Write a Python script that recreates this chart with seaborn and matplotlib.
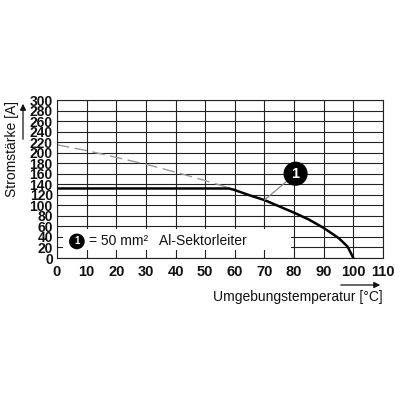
import matplotlib
matplotlib.use("Agg")
import matplotlib.pyplot as plt
import seaborn as sns
import pandas as pd
from matplotlib.patches import Rectangle

# Data
temps_solid = [0, 58, 60, 65, 70, 75, 80, 85, 90, 95, 98, 100]
current_solid = [132, 132, 129, 119, 110, 98, 86, 73, 57, 38, 22, 0]
temps_dashed = [0, 10, 20, 30, 40, 50, 60]
current_dashed = [215, 204, 191, 178, 163, 147, 130]
x_ticks = list(range(0, 111, 10))
y_ticks = list(range(0, 301, 20))
x_label = "Umgebungstemperatur [°C]"
y_label = "Stromstärke [A]"
legend_text = "= 50 mm²   Al-Sektorleiter"
marker_label = "1"
annot_point = (70, 110)
annot_circle = (80.5, 160)

sns.set_theme(style="white")
plt.rcParams['font.family'] = ['Liberation Sans', 'DejaVu Sans']

df_solid = pd.DataFrame({"T": temps_solid, "I": current_solid})
df_dash = pd.DataFrame({"T": temps_dashed, "I": current_dashed})

fig = plt.figure(figsize=(4, 4), dpi=100)
ax = fig.add_axes([0.1425, 0.355, 0.815, 0.395])

ax.set_xlim(0, 110)
ax.set_ylim(0, 300)
ax.set_xticks(x_ticks)
ax.set_yticks(y_ticks)
ax.grid(True, color="#222222", linewidth=0.8)
ax.set_axisbelow(True)
for s in ax.spines.values():
    s.set_color("#222222")
    s.set_linewidth(0.8)

ax.tick_params(axis="x", length=0, labelsize=10.5, colors="#111111", pad=5)
ax.tick_params(axis="y", length=0, labelsize=10, colors="#111111", pad=3)
for lbl in ax.get_xticklabels() + ax.get_yticklabels():
    lbl.set_fontweight("bold")

# White legend box that covers grid
ax.add_patch(Rectangle((0.018, 0.05), 0.70, 0.135, transform=ax.transAxes,
                       facecolor="white", edgecolor="none", zorder=1.5))

sns.lineplot(data=df_dash, x="T", y="I", ax=ax, color="#999999",
             linewidth=1.0, linestyle=(0, (9, 4)), zorder=2)
sns.lineplot(data=df_solid, x="T", y="I", ax=ax, color="black",
             linewidth=1.8, zorder=3)
ax.set_xlabel("")
ax.set_ylabel("")

# Annotation circle "1"
ax.annotate("", xy=annot_point, xytext=annot_circle,
            arrowprops=dict(arrowstyle="-", color="#888888", lw=0.9,
                            shrinkA=8, shrinkB=0), zorder=4)
ax.text(annot_circle[0], annot_circle[1], marker_label, color="white",
        fontsize=10.5, fontweight="bold", ha="center", va="center", zorder=5,
        bbox=dict(boxstyle="circle,pad=0.3", fc="black", ec="black"))

# Legend content
ax.text(0.061, 0.105, marker_label, transform=ax.transAxes, color="white",
        fontsize=7, fontweight="bold", ha="center", va="center", zorder=5,
        bbox=dict(boxstyle="circle,pad=0.22", fc="black", ec="black"))
ax.text(0.098, 0.105, legend_text, transform=ax.transAxes, color="#111111",
        fontsize=10, ha="left", va="center", zorder=5)

# Axis labels with arrows
fig.text(383 / 400, 1 - 297 / 400, x_label, ha="right", va="center",
         fontsize=10, color="#111111")
fig.add_artist(matplotlib.patches.FancyArrowPatch(
    (338 / 400, 1 - 285 / 400), (383 / 400, 1 - 285 / 400),
    transform=fig.transFigure, arrowstyle="-|>", mutation_scale=9,
    color="#111111", lw=0.9))

fig.text(12 / 400, 1 - 149 / 400, y_label, ha="center", va="center",
         rotation=90, fontsize=10, color="#111111")
fig.add_artist(matplotlib.patches.FancyArrowPatch(
    (23 / 400, 1 - 142 / 400), (23 / 400, 1 - 101 / 400),
    transform=fig.transFigure, arrowstyle="-|>", mutation_scale=9,
    color="#111111", lw=0.9))

fig.savefig("out.png", dpi=100, facecolor="white")
